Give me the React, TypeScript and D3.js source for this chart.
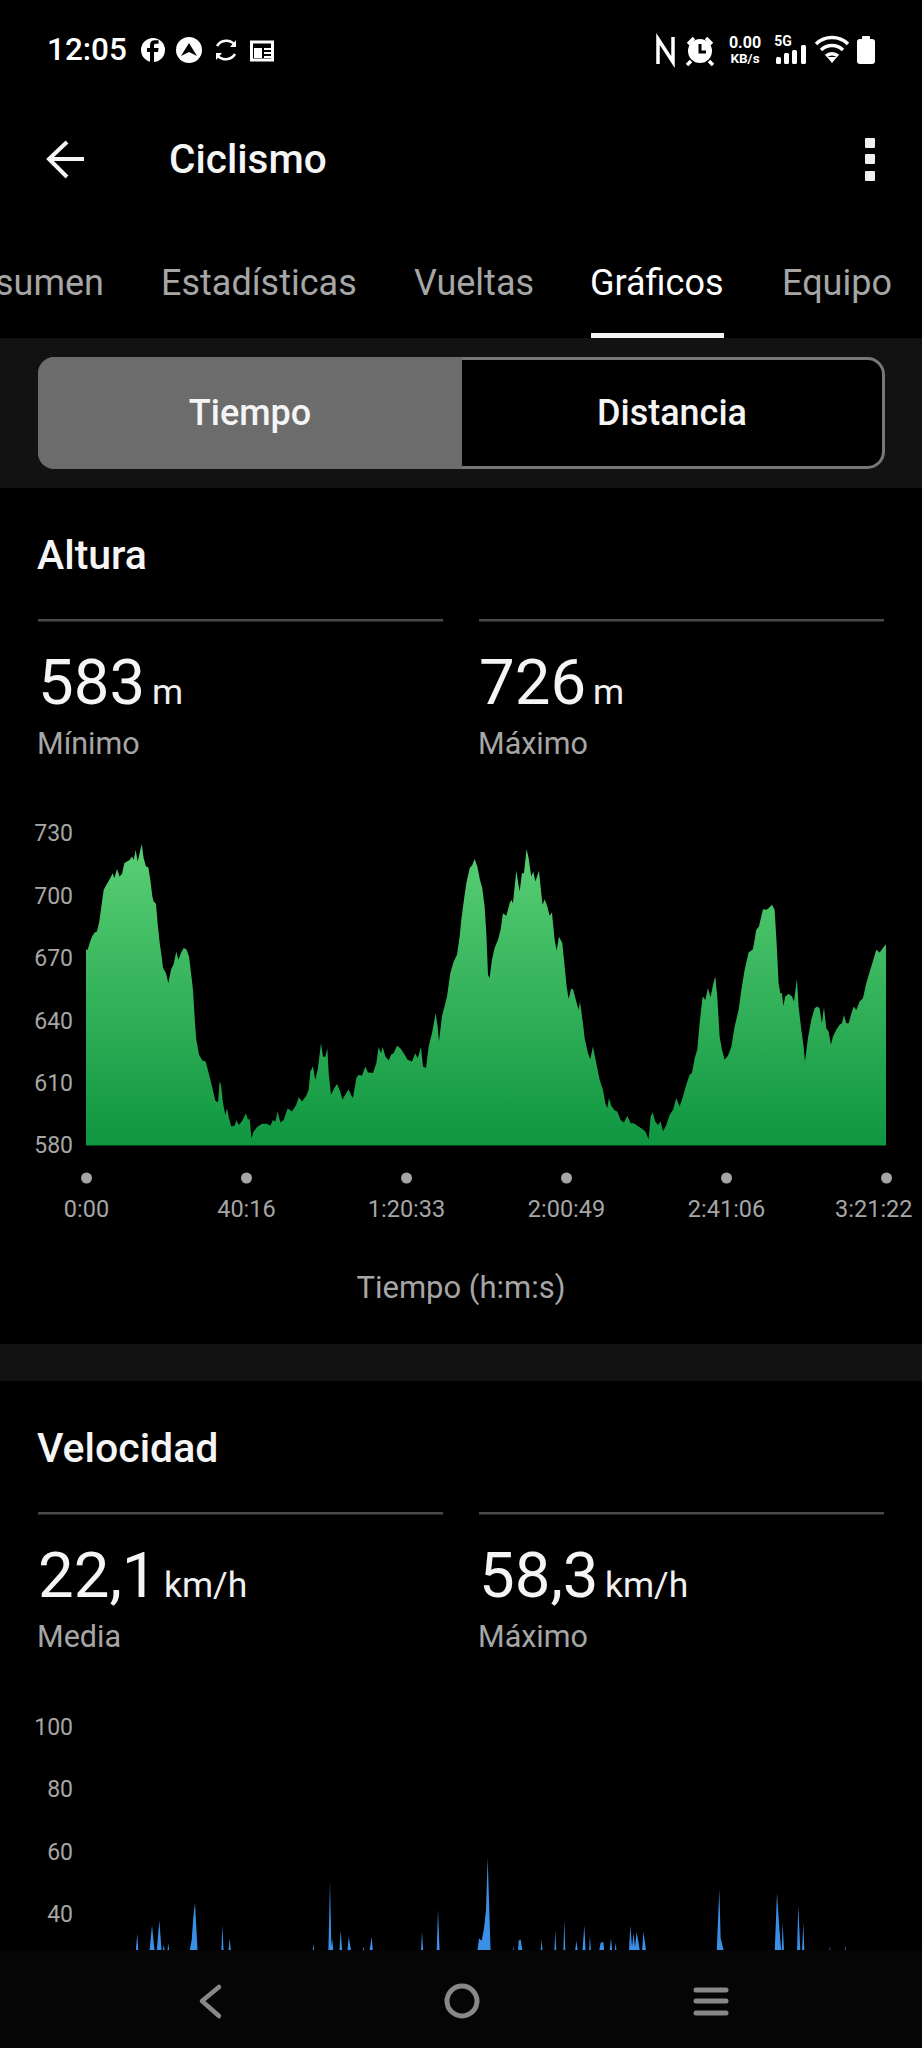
import React, { useEffect, useRef } from 'react';
import * as d3 from 'd3';

const tabs = ['sumen', 'Estadísticas', 'Vueltas', 'Gráficos', 'Equipo'];
const tabX = [104, 161, 414, 590, 782];

const timeTicks = [0, 2416, 4833, 7249, 9666, 12082];
const timeLabels = ['0:00', '40:16', '1:20:33', '2:00:49', '2:41:06', '3:21:22'];
const altTicks = [580, 610, 640, 670, 700, 730];
const speedTicks = [40, 60, 80, 100];

const altTime = [
  0, 25, 55, 91, 131, 166, 201, 232, 267, 307, 357, 403, 428, 468, 508, 544, 579, 619, 659, 695, 720, 750, 780, 810, 841, 871, 906, 941, 972, 1002, 1022, 1057, 1082, 1113, 1143, 1163, 1208, 1243, 1284, 1324, 1364, 1394, 1435, 1475, 1515, 1556, 1586, 1616, 1646, 1666, 1707, 1757, 1807, 1853, 1903, 1953, 1994, 2019, 2039, 2069, 2104, 2129, 2160, 2195, 2245, 2270, 2311, 2361, 2416, 2447, 2472, 2497, 2532, 2582, 2658, 2734, 2784, 2824, 2859, 2895, 2935, 2985, 3046, 3111, 3176, 3212, 3262, 3327, 3363, 3388, 3428, 3463, 3499, 3549, 3579, 3614, 3645, 3665, 3700, 3750, 3791, 3841, 3871, 3916, 3967, 4002, 4032, 4083, 4118, 4168, 4218, 4259, 4334, 4385, 4420, 4455, 4480, 4521, 4571, 4606, 4646, 4697, 4747, 4797, 4858, 4923, 4974, 5009, 5059, 5089, 5135, 5175, 5225, 5281, 5311, 5331, 5376, 5452, 5502, 5553, 5603, 5643,
  5668, 5708, 5744, 5794, 5834, 5869, 5910, 5950, 5985, 6020, 6046, 6071, 6096, 6131, 6171, 6222, 6262, 6297, 6348, 6398, 6423, 6448, 6499, 6524, 6549, 6584, 6614, 6655, 6685, 6725, 6755, 6786, 6841, 6876, 6896, 6927, 6967, 7002, 7037, 7078, 7108, 7143, 7193, 7229, 7259, 7289, 7329, 7359, 7405, 7440, 7460, 7505, 7531, 7581, 7616, 7656, 7707, 7757, 7807, 7843, 7873, 7898, 7933, 7984, 8024, 8074, 8125, 8175, 8225, 8276, 8326, 8386, 8447, 8497, 8527, 8558, 8598, 8638, 8678, 8714, 8764, 8814, 8865, 8915, 8965, 9016, 9066, 9116, 9152, 9192, 9232, 9267, 9313, 9353, 9393, 9433, 9469, 9504, 9534, 9569, 9605, 9645, 9695, 9746, 9796, 9856, 9897, 9947, 10007, 10073, 10123, 10163, 10224, 10274, 10309, 10360, 10400, 10430, 10460, 10485, 10511, 10531, 10561, 10611, 10662, 10692, 10737, 10762, 10803, 10838, 10858, 10903, 10954, 11004, 11044, 11079, 11115, 11145, 11180, 11215, 11251, 11281, 11331, 11382, 11417, 11447, 11482, 11518, 11568, 11598, 11633, 11684, 11734, 11784, 11860, 11935, 11986, 12036, 12076, 12082,
];

const altitude = [
  674.1, 674.1, 677.3, 680.5, 682.4, 682.9, 687.7, 694.9, 702.9, 705.3, 708, 710.9, 708.5, 712.9, 709.3, 710.6, 715.7, 716.5, 717.3, 718.9, 717.3, 722.1, 716.5, 720.5, 725, 718.1, 714.1, 713.8, 707.7, 699.7, 697.3, 696.2, 686.9, 677.3, 670.9, 665.3, 662.9, 658, 664.5, 667.3, 673.3, 669.3, 672.5, 674.9, 674.4, 670.9, 662.9, 654.8, 638.8, 630.8, 623.6, 620.9, 620.4, 614.8, 608.4, 601.6, 600.7, 610.8, 609.2, 600.4, 594.7, 597.9, 593.1, 589.1, 589.5, 592, 589.9, 592, 595.5, 592.3, 593.1, 583.5, 586.7, 588.8, 590.4, 590.4, 589.5, 592.3, 591.5, 596.3, 591.1, 592.3, 597.9, 596.3, 599.6, 603.2, 601.2, 603.9, 606.8, 615.6, 618, 611.6, 616.4, 629.2, 622.8, 622.5, 626.8, 614.8, 604.4, 607.6, 609.6, 606, 602, 604.4, 607.1, 604.4, 602.8, 612.4, 614, 613.5, 618, 615.1, 614.8, 619.6, 627.3, 624.4, 627.3, 622.8, 620.9, 623.6, 624.4, 627.9, 626.8, 624.4, 621.2, 620.4, 624.4, 622, 627.3, 618, 617.2, 627.6, 634, 643.6, 637.2, 630, 642, 651.6, 662.9, 668.5, 671.7, 680.5,
  688.5, 698.1, 706.1, 713.3, 714.9, 717.8, 714.1, 707.7, 703.7, 694.9, 682.1, 662.1, 660.5, 669.3, 674.9, 678.9, 683.7, 691.7, 690.4, 696.5, 698.1, 696.5, 712.2, 706.9, 702.1, 710.9, 710.9, 722.5, 718.1, 709.3, 711.7, 706.9, 712.1, 701.3, 695.7, 698.4, 694.9, 690.4, 692, 678.9, 673.8, 680.5, 677.3, 666.1, 656.4, 650.4, 655.6, 654.8, 649.2, 645.2, 649.2, 638.8, 631.6, 624.4, 621.5, 627.6, 619.6, 611.6, 606.8, 600.4, 597.9, 602.8, 599.1, 596.8, 596.3, 592.3, 591.1, 594.3, 590.7, 590.7, 589.5, 588.3, 586.7, 583, 593.9, 595.9, 591.5, 589.9, 591.5, 586.7, 589.9, 594.7, 597.1, 602.8, 598.8, 603.6, 609.2, 614, 614.8, 622, 626, 638.8, 651.6, 650, 655.6, 651.3, 657.2, 661.3, 651.6, 632.4, 626, 621.2, 623.1, 627.3, 637.2, 645.2, 654.8, 664.5, 672.8, 674.4, 683.7, 685.3, 693.6, 693.3, 694.1, 695.7, 693.3, 677.3, 658, 653.2, 653.2, 647.1, 651.6, 652.9, 651.6, 649.2, 660, 646.8, 635.6, 627.6, 620.4, 631.6, 640.4, 646, 646.8, 646, 638.8, 646.5, 636.4, 634.8, 628.4, 632.4, 635.6, 638, 638.8, 642.8, 638.8, 638.8, 644.4, 646.8, 645.2, 649.2, 650.8, 658, 666.1, 674.1, 672.8, 674.9, 676.5, 676.5,
];

// only the tops above the navigation bar can be read, the rest is estimated low
const speedTime = [
  0, 750, 775, 790, 957, 997, 1037, 1067, 1108, 1143, 1158, 1173, 1193, 1228, 1243, 1259, 1561, 1596, 1621, 1646, 1686, 2044, 2059, 2079, 2150, 2170, 2190, 3423, 3433, 3448, 3660, 3685, 3705, 3720, 3735, 3826, 3846, 3871, 3947, 3967, 4007, 4178, 4188, 4209, 4279, 4314, 4334,
  5059, 5074, 5094, 5296, 5316, 5341, 5910, 5935, 5975, 6011, 6041, 6066, 6091, 6111, 6443, 6454, 6464, 6524, 6534, 6564, 6595, 6866, 6881, 6897, 7073, 7088, 7103, 7209, 7224, 7239, 7385, 7405, 7430, 7496, 7526, 7546, 7596, 7611, 7626, 7747, 7772, 7813, 7828, 7908, 7928, 7949, 7984, 7999, 8014, 8200, 8221, 8246, 8271, 8291, 8316, 8346, 8366, 8397, 8417, 8462,
  9525, 9565, 9585, 9636, 10401, 10436, 10471, 10501, 10506, 10522, 10542, 10738, 10758, 10788, 10813, 10834, 10849, 11226, 11236, 11246, 11458, 11468, 11478, 12082,
];

const speed = [
  28, 28, 34, 28, 28, 36.6, 28, 28, 38.2, 28, 28, 30.3, 28, 28, 30.8, 28, 28, 31.8, 39.3, 43.8, 28, 28, 36.6, 28, 28, 32.4, 28, 28, 30.8, 28, 28, 50.5, 30, 32.4, 28, 28, 35, 28, 28, 32.9, 28, 28, 29.7, 28, 28, 32.9, 28,
  28, 34.5, 28, 28, 41.7, 28, 28, 32.4, 31.6, 35.6, 41.4, 58.3, 41.4, 28, 28, 29.9, 28, 28, 31.6, 32, 28, 28, 32, 28, 28, 35, 28, 28, 38.4, 28, 28, 31.6, 28, 28, 36.6, 28, 28, 33.1, 28, 28, 31, 31.2, 28, 28, 32.4, 28, 28, 31, 28, 28, 36.6, 29.7, 34, 29.5, 34.4, 30.8, 28, 28, 34.5, 28,
  28, 48.1, 32.4, 28, 28, 47, 35.6, 28, 28, 37.7, 28, 28, 43, 28, 28, 37.4, 28, 28, 29.9, 28, 28, 29.9, 28, 28,
];

const FONT = 'Roboto, sans-serif';
const GREY = '#a6a6a6';

const Stat: React.FC<{ x: number; y: number; value: string; unit: string; unitX: number; label: string }> = ({ x, y, value, unit, unitX, label }) => (
  <g fontFamily={FONT}>
    <rect x={x} y={y} width={405} height={2.5} fill="#4a4a4a" />
    <text x={x} y={y + 85} fontSize={63.5} fill="#f5f5f5">{value}</text>
    <text x={unitX} y={y + 85} fontSize={35.5} fill="#f0f0f0">{unit}</text>
    <text x={x - 1} y={y + 135} fontSize={30.5} fill={GREY}>{label}</text>
  </g>
);

const StatusBar: React.FC = () => (
  <g fontFamily={FONT} fill="#fff">
    <text x={47} y={60} fontSize={31.5} fontWeight={500}>12:05</text>
    <circle cx={153} cy={50} r={12} />
    <path d="M154 62 v-10 h4 l.6-4 h-4.6 v-2.4 c0-1.2 .5-1.8 2-1.8 h2.6 v-3.6 h-3.6 c-3.4 0-5 1.8-5 5 v2.8 h-3 v4 h3 v10 z" fill="#000" />
    <circle cx={189} cy={50} r={13} />
    <path d="M189 43 l8 13 l-8 -4 l-8 4 z" fill="#000" />
    <path d="M217 46 a11 11 0 0 1 18 -1 M235 54 a11 11 0 0 1 -18 1" fill="none" stroke="#fff" strokeWidth={2.5} />
    <path d="M236 40 v7 h-6 z M216 60 v-7 h6 z" />
    <rect x={251.5} y={42} width={21} height={18} fill="none" stroke="#fff" strokeWidth={3} />
    <rect x={254} y={48} width={8} height={10} />
    <rect x={264} y={48} width={7} height={2} />
    <rect x={264} y={52} width={7} height={2} />
    <rect x={264} y={56} width={7} height={2} />
    <path d="M658 64 V39 L673 62 V37" fill="none" stroke="#fff" strokeWidth={3.5} />
    <circle cx={700} cy={51} r={12} />
    <path d="M700 44 v8 h6" fill="none" stroke="#000" strokeWidth={3} />
    <path d="M688 44 l6 -6 M712 44 l-6 -6 M691 61 l-4 4 M709 61 l4 4" stroke="#fff" strokeWidth={3.5} />
    <text x={745} y={48} fontSize={16} fontWeight={700} textAnchor="middle">0.00</text>
    <text x={745} y={63} fontSize={13.5} fontWeight={700} textAnchor="middle">KB/s</text>
    <text x={783} y={46} fontSize={14} fontWeight={700} textAnchor="middle">5G</text>
    <rect x={776} y={57} width={5} height={7} rx={1.5} />
    <rect x={784} y={53} width={5} height={11} rx={1.5} />
    <rect x={792} y={50} width={5} height={14} rx={1.5} />
    <rect x={801} y={45} width={5} height={19} rx={1.5} />
    <path d="M816 44 a23 23 0 0 1 32 0 M821 50 a16 16 0 0 1 22 0 M826 56 a9 9 0 0 1 12 0" fill="none" stroke="#fff" strokeWidth={3.5} />
    <path d="M827 57 h10 l-5 6 z" />
    <rect x={857} y={39} width={18} height={25} rx={3} />
    <rect x={862} y={36} width={8} height={4} rx={1} />
  </g>
);

const TopBar: React.FC = () => (
  <g fontFamily={FONT}>
    <path d="M84 159 H50 M67 142 L49 159 L67 177" fill="none" stroke="#f5f5f5" strokeWidth={4} />
    <text x={169} y={173} fontSize={40.5} fontWeight={500} fill="#f5f5f5">Ciclismo</text>
    {[143, 159, 176].map(y => <rect key={y} x={865} y={y - 5} width={10} height={10} rx={1} fill="#f0f0f0" />)}
    {tabs.map((t, i) => (
      <text key={t} x={tabX[i]} y={295} fontSize={36} textAnchor={i === 0 ? 'end' : 'start'} fill={t === 'Gráficos' ? '#fff' : GREY}>{t}</text>
    ))}
    <rect x={591} y={333} width={133} height={5} fill="#f5f5f5" />
    <rect x={0} y={338} width={922} height={150} fill="#121212" />
    <rect x={39.5} y={358.5} width={844} height={109} rx={16} fill="#000" stroke="#777" strokeWidth={3} />
    <path d="M462 357 H54 a16 16 0 0 0 -16 16 V453 a16 16 0 0 0 16 16 H462 z" fill="#6c6c6c" />
    <text x={250} y={425} fontSize={36} fontWeight={500} fill="#f5f5f5" textAnchor="middle">Tiempo</text>
    <text x={672} y={425} fontSize={36} fontWeight={500} fill="#f5f5f5" textAnchor="middle">Distancia</text>
  </g>
);

const NavBar: React.FC = () => (
  <g>
    <rect x={0} y={1950} width={922} height={98} fill="#050505" />
    <path d="M219 1987 L202 2001 L219 2016" fill="none" stroke="#888" strokeWidth={4.5} strokeLinecap="round" strokeLinejoin="round" />
    <circle cx={462} cy={2001} r={15} fill="none" stroke="#888" strokeWidth={5} />
    {[1990, 2001, 2013].map(y => <line key={y} x1={696} x2={726} y1={y} y2={y} stroke="#888" strokeWidth={5} strokeLinecap="round" />)}
  </g>
);

export default function App() {
  const altRef = useRef<SVGGElement>(null);
  const speedRef = useRef<SVGGElement>(null);

  useEffect(() => {
    const x = d3.scaleLinear().domain([0, 12082]).range([86, 886]);
    const yAlt = d3.scaleLinear().domain([580, 730]).range([1145.5, 833.5]);
    const ySpeed = d3.scaleLinear().domain([0, 100]).range([2039.5, 1727]);

    // Altura
    const g = d3.select(altRef.current);
    g.selectAll('*').remove();

    const grad = g.append('defs').append('linearGradient')
      .attr('id', 'altFill')
      .attr('gradientUnits', 'userSpaceOnUse')
      .attr('x1', 0).attr('y1', yAlt(726))
      .attr('x2', 0).attr('y2', yAlt(580));
    grad.append('stop').attr('offset', '0%').attr('stop-color', '#5ad075');
    grad.append('stop').attr('offset', '100%').attr('stop-color', '#0f9641');

    const altArea = d3.area<number>()
      .x((_, i) => x(altTime[i]))
      .y0(yAlt(580))
      .y1(d => yAlt(d));

    g.append('path').datum(altitude).attr('fill', 'url(#altFill)').attr('d', altArea);

    const axisY = g.append('g')
      .attr('transform', 'translate(73,0)')
      .call(d3.axisLeft(yAlt).tickValues(altTicks).tickSize(0).tickPadding(0));
    axisY.select('.domain').remove();
    axisY.selectAll('text').attr('font-family', FONT).attr('font-size', 23).attr('fill', GREY);

    const axisX = g.append('g')
      .attr('transform', 'translate(0,1178)')
      .call(d3.axisBottom(x).tickValues(timeTicks).tickSize(0).tickPadding(0)
        .tickFormat((_, i) => timeLabels[i]));
    axisX.select('.domain').remove();
    axisX.selectAll('.tick').append('circle').attr('r', 5.5).attr('fill', GREY);
    axisX.selectAll('text')
      .attr('font-family', FONT).attr('font-size', 23.5).attr('fill', GREY)
      .attr('dy', null).attr('y', 39)
      .attr('text-anchor', (_, i) => (i === timeTicks.length - 1 ? 'end' : 'middle'))
      .attr('x', (_, i) => (i === timeTicks.length - 1 ? 26 : 0));

    // Velocidad
    const s = d3.select(speedRef.current);
    s.selectAll('*').remove();

    const speedArea = d3.area<number>()
      .x((_, i) => x(speedTime[i]))
      .y0(ySpeed(0))
      .y1(d => ySpeed(d));

    s.append('path').datum(speed).attr('fill', '#3a8fe8').attr('d', speedArea);

    const axisS = s.append('g')
      .attr('transform', 'translate(73,0)')
      .call(d3.axisLeft(ySpeed).tickValues(speedTicks).tickSize(0).tickPadding(0));
    axisS.select('.domain').remove();
    axisS.selectAll('text').attr('font-family', FONT).attr('font-size', 23).attr('fill', GREY);
  }, []);

  return (
    <svg width={922} height={2048} style={{ position: 'absolute', left: 0, top: 0, display: 'block', background: '#000' }}>
      <StatusBar />
      <TopBar />

      <text x={37} y={569} fontFamily={FONT} fontSize={41} fontWeight={500} fill="#f5f5f5">Altura</text>
      <Stat x={38} y={619} value="583" unit="m" unitX={152} label="Mínimo" />
      <Stat x={479} y={619} value="726" unit="m" unitX={593} label="Máximo" />
      <g ref={altRef} />
      <text x={461} y={1298} fontFamily={FONT} fontSize={31} fill={GREY} textAnchor="middle">Tiempo (h:m:s)</text>

      <rect x={0} y={1344} width={922} height={37} fill="#121212" />

      <text x={37} y={1462} fontFamily={FONT} fontSize={41} fontWeight={500} fill="#f5f5f5">Velocidad</text>
      <Stat x={38} y={1512} value="22,1" unit="km/h" unitX={164} label="Media" />
      <Stat x={479} y={1512} value="58,3" unit="km/h" unitX={605} label="Máximo" />
      <g ref={speedRef} />

      <NavBar />
    </svg>
  );
}
